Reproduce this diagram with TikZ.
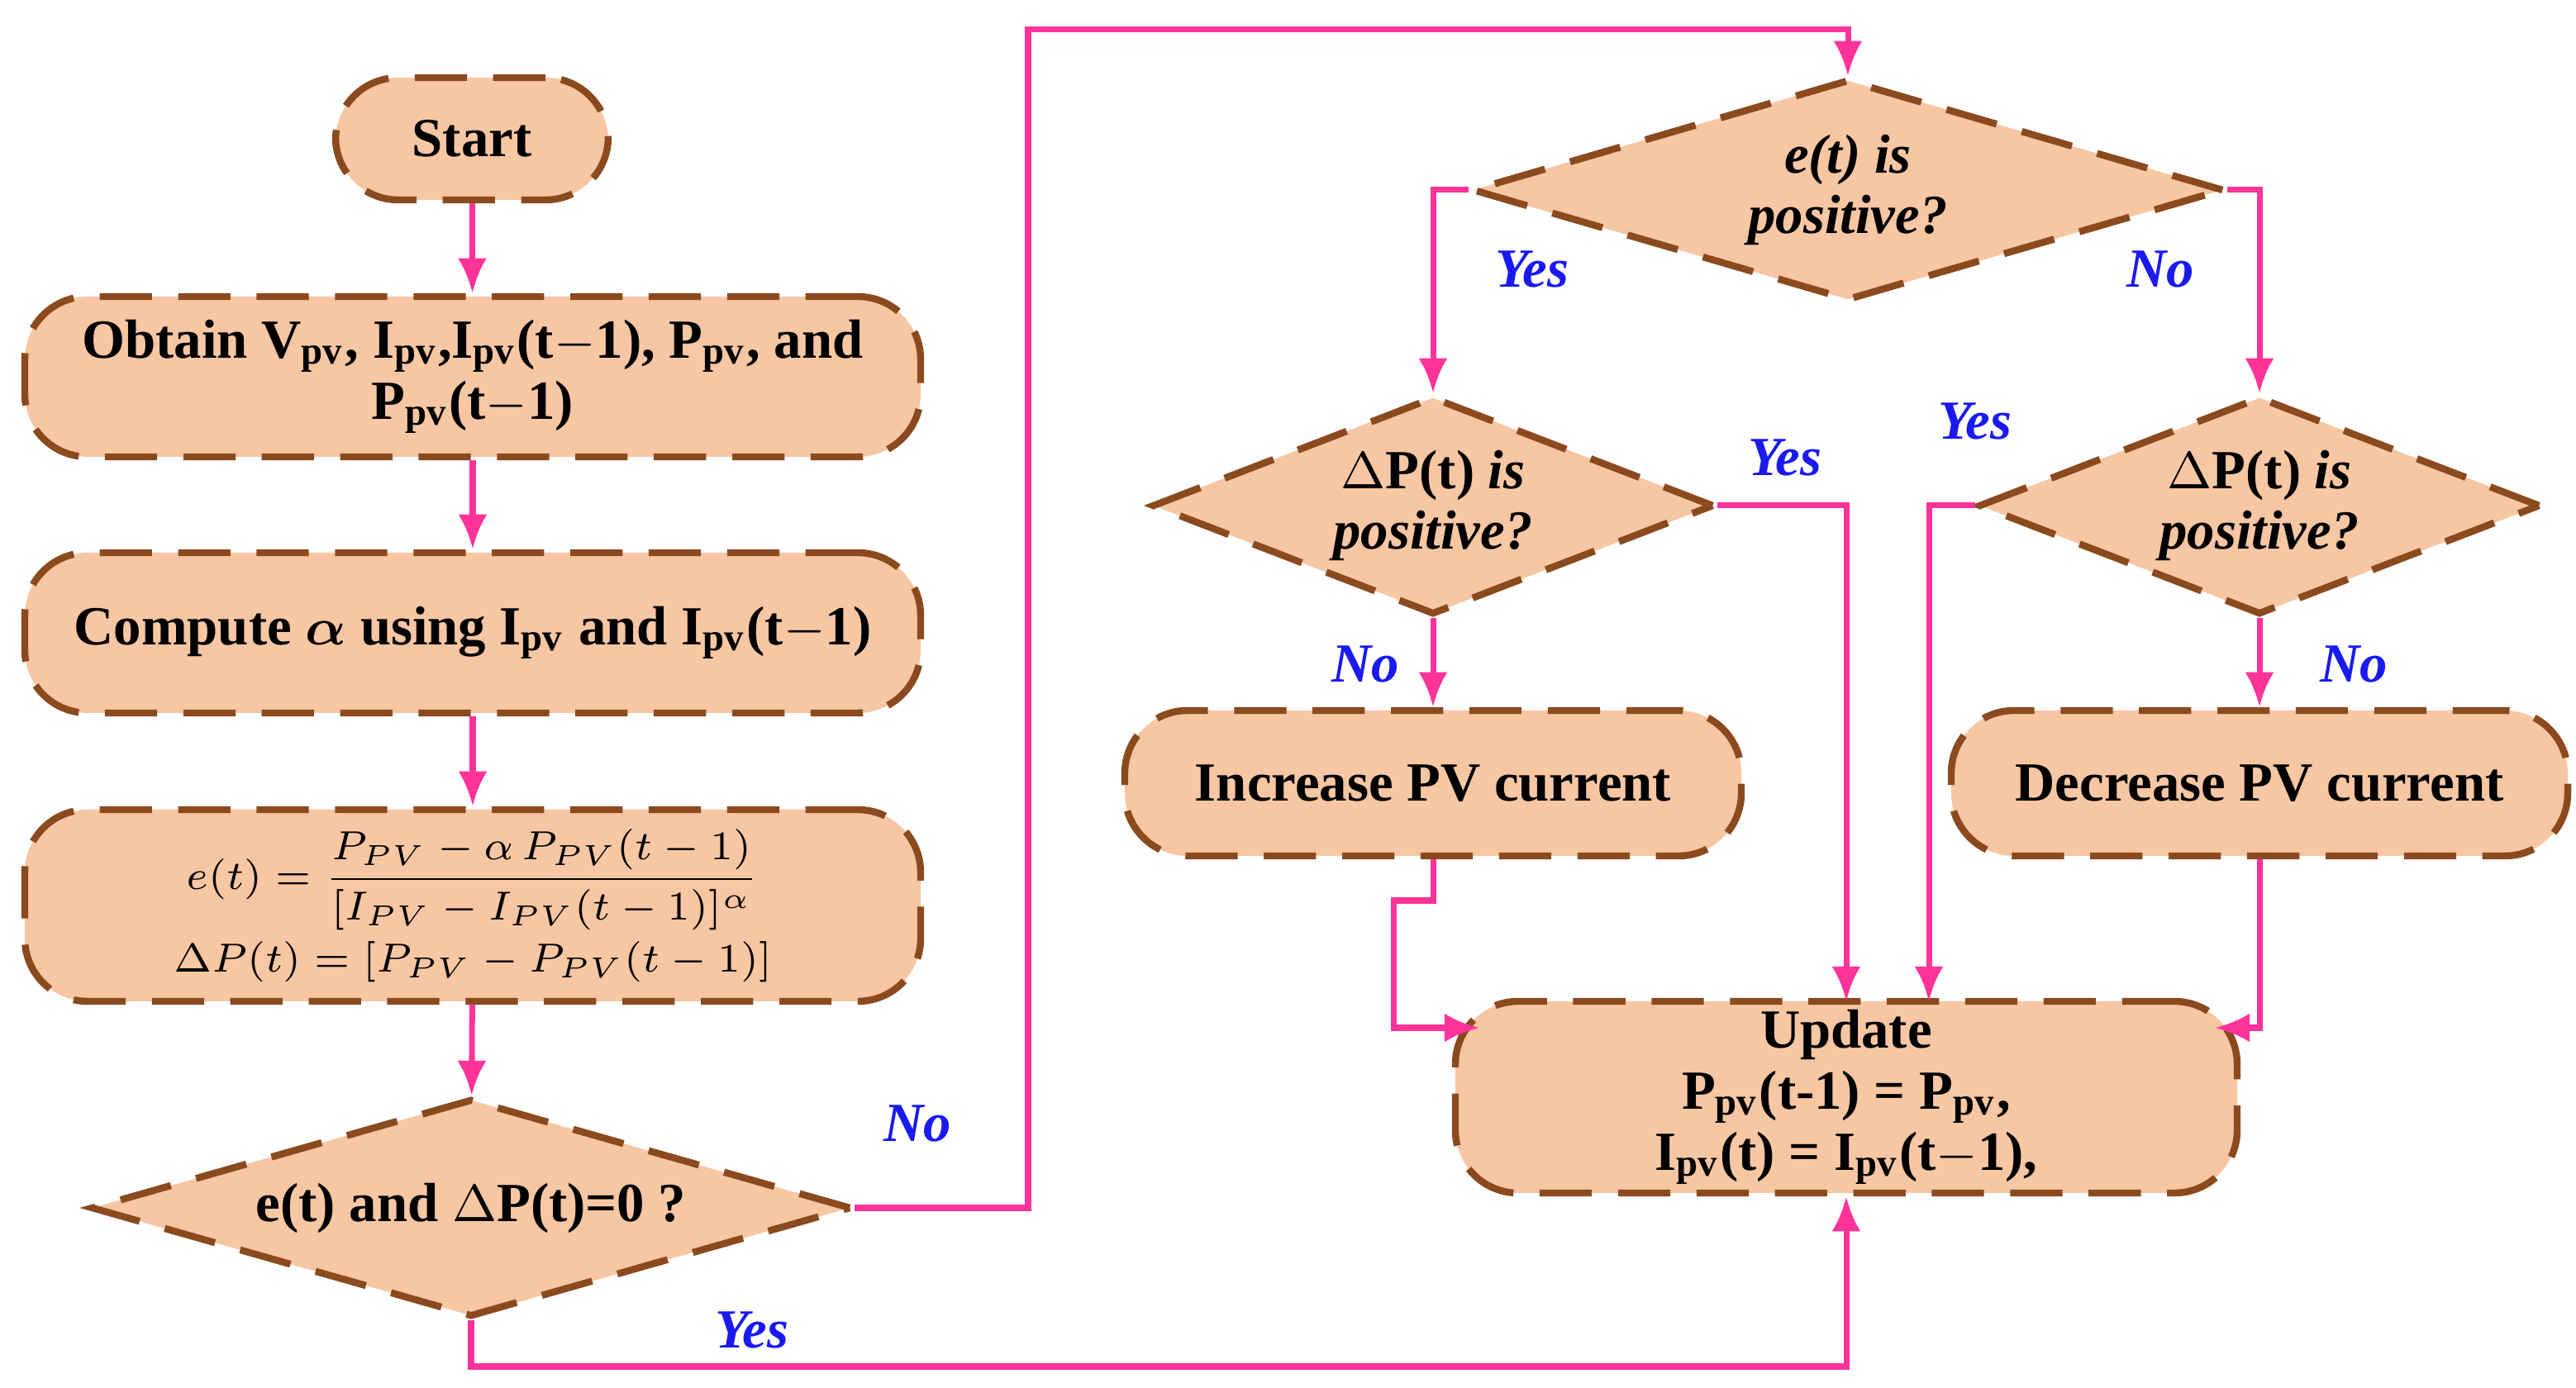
\documentclass[tikz,border=0pt]{standalone}
\usepackage{amsmath}
\usepackage{fontspec}
\setmainfont{Liberation Serif}
\usetikzlibrary{shapes.geometric}
\usetikzlibrary{arrows.meta}

\definecolor{peach}{HTML}{F7C6A3}
\definecolor{brownline}{HTML}{8B4A1E}
\definecolor{pinkline}{HTML}{FF3399}
\definecolor{bluelab}{HTML}{1A1AF0}

\tikzset{
	box/.style={rectangle, rounded corners=0.38cm, draw=brownline, fill=peach,
		line width=1.2pt, dash pattern=on 9pt off 4.5pt, align=center,
		font=\fontsize{9.5}{10.5}\selectfont\bfseries, inner sep=1pt},
	decision/.style={diamond, aspect=3, draw=brownline, fill=peach,
		line width=1.2pt, dash pattern=on 9pt off 4.5pt, align=center,
		font=\fontsize{9.5}{10.5}\selectfont\bfseries, inner sep=0pt},
	flow/.style={draw=pinkline, line width=1pt, -{Latex[length=6pt,width=5pt]}},
	lab/.style={text=bluelab, font=\fontsize{9.5}{10.5}\selectfont\bfseries\itshape}
}

\begin{document}
\begin{tikzpicture}
	\useasboundingbox (0,0) rectangle (15.585,8.4);

	% left column
	\node (start) [box, minimum width=1.65cm, minimum height=0.74cm] at (2.855,7.56) {Start};
	\node (obtain) [box, minimum width=5.42cm, minimum height=0.97cm] at (2.86,6.12)
		{Obtain V\textsubscript{pv}, I\textsubscript{pv},I\textsubscript{pv}(t$-$1), P\textsubscript{pv}, and\\ P\textsubscript{pv}(t$-$1)};
	\node (compute) [box, minimum width=5.42cm, minimum height=0.97cm] at (2.86,4.57)
		{Compute $\boldsymbol{\alpha}$ using I\textsubscript{pv} and I\textsubscript{pv}(t$-$1)};
	\node (eq) [box, minimum width=5.42cm, minimum height=1.16cm, font=\fontsize{7}{8}\selectfont] at (2.86,2.92)
		{$e(t)=\dfrac{P_{PV}-\alpha\,P_{PV}(t-1)}{[I_{PV}-I_{PV}(t-1)]^{\alpha}}$\\[1pt]
		 $\Delta P(t)=[P_{PV}-P_{PV}(t-1)]$};
	\node (zero) [decision, minimum width=4.6cm, minimum height=1.32cm] at (2.85,1.09)
		{e(t) and \textit{$\Delta$}P(t)=0 ?};

	% right part
	\node (epos) [decision, minimum width=4.55cm, minimum height=1.34cm, font=\fontsize{9.5}{10.5}\selectfont\bfseries\itshape] at (11.18,7.25)
		{e(t) is\\ positive?};
	\node (dpl) [decision, minimum width=3.4cm, minimum height=1.32cm] at (8.67,5.34)
		{\textit{$\Delta$}P(t) \textit{is}\\ \textit{positive?}};
	\node (dpr) [decision, minimum width=3.4cm, minimum height=1.32cm] at (13.67,5.34)
		{\textit{$\Delta$}P(t) \textit{is}\\ \textit{positive?}};
	\node (inc) [box, minimum width=3.73cm, minimum height=0.88cm] at (8.67,3.66) {Increase PV current};
	\node (dec) [box, minimum width=3.73cm, minimum height=0.88cm] at (13.67,3.66) {Decrease PV current};
	\node (update) [box, minimum width=4.73cm, minimum height=1.16cm] at (11.17,1.76)
		{Update\\ P\textsubscript{pv}(t-1) = P\textsubscript{pv},\\ I\textsubscript{pv}(t) = I\textsubscript{pv}(t$-$1),};

	% connectors
	\draw [flow] (start) -- (obtain);
	\draw [flow] (obtain) -- (compute);
	\draw [flow] (compute) -- (eq);
	\draw [flow] (eq) -- (zero);
	\draw [flow] (zero.east) -| (6.22,8.22) -| (epos.north);
	\draw [flow] (zero.south) |- (11.17,0.13) -- (update.south);
	\draw [flow] (epos.west) -| (dpl.north);
	\draw [flow] (epos.east) -| (dpr.north);
	\draw [flow] (dpl) -- (inc);
	\draw [flow] (dpr) -- (dec);
	\draw [flow] (dpl.east) -| (11.17,2.34);
	\draw [flow] (dpr.west) -| (11.67,2.34);
	\draw [flow] (inc.south) |- (8.43,2.95) |- (8.95,2.18);
	\draw [flow] (dec.south) |- (13.40,2.18);

	% labels
	\node [lab] at (5.55,1.6) {No};
	\node [lab] at (4.55,0.35) {Yes};
	\node [lab] at (9.27,6.77) {Yes};
	\node [lab] at (13.07,6.77) {No};
	\node [lab] at (8.26,4.38) {No};
	\node [lab] at (14.24,4.38) {No};
	\node [lab] at (10.8,5.63) {Yes};
	\node [lab] at (11.95,5.85) {Yes};
\end{tikzpicture}
\end{document}
